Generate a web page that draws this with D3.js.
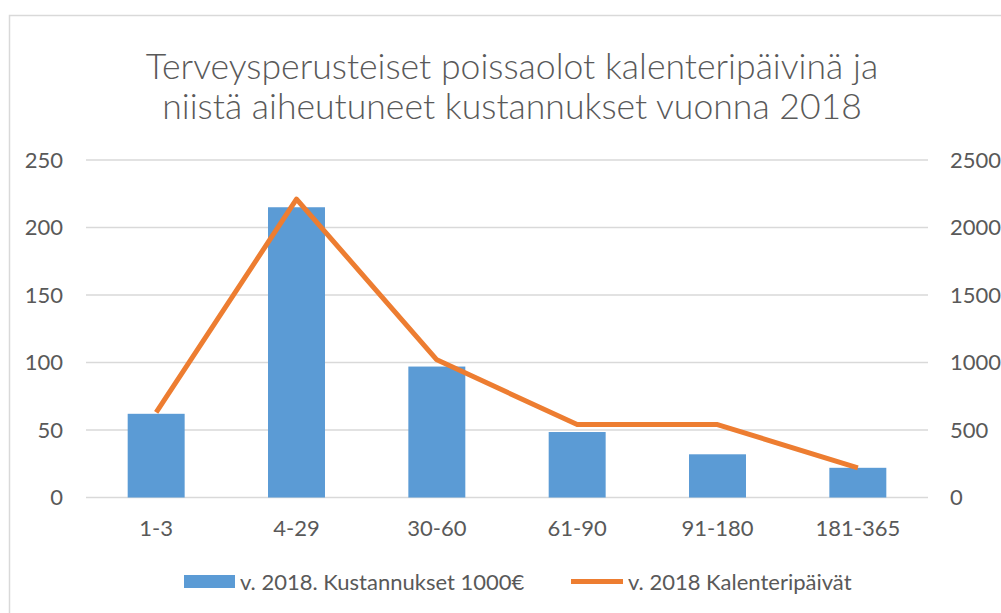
<!DOCTYPE html>
<html>
  <head>
    <meta charset="utf-8">
    <title>Terveysperusteiset poissaolot</title>
    <script src="https://d3js.org/d3.v7.min.js"></script>
    <style>
      body { margin: 0; background: #fff; }
      text { font-family: Lato, "Open Sans", sans-serif; fill: #595959; }
    </style>
  </head>
  <body>
    <script>
      var categories = ["1-3", "4-29", "30-60", "61-90", "91-180", "181-365"];
      var kustannukset = [62, 215, 97, 48.5, 32, 22];
      var kalenteripaivat = [630, 2210, 1020, 540, 540, 220];
      var leftTicks = [0, 50, 100, 150, 200, 250];
      var rightTicks = [0, 500, 1000, 1500, 2000, 2500];
      var titleLines = ["Terveysperusteiset poissaolot kalenteripäivinä ja",
                        "niistä aiheutuneet kustannukset vuonna 2018"];
      var legendLabels = ["v. 2018. Kustannukset 1000€", "v. 2018 Kalenteripäivät"];

      var width = 1001, height = 613;
      var blue = "#5B9BD5", orange = "#ED7D31", grid = "#D9D9D9";

      var svg = d3.select("body").append("svg")
        .attr("width", width)
        .attr("height", height);

      // chart frame (runs off the right and bottom edge)
      svg.append("rect")
        .attr("x", 9.5).attr("y", 15.5)
        .attr("width", 1010).attr("height", 620)
        .attr("fill", "none")
        .attr("stroke", grid)
        .attr("stroke-width", 1.5);

      var x = d3.scaleBand()
        .domain(categories)
        .range([86, 928])
        .paddingInner(0.594)
        .paddingOuter(0.297);

      var yLeft = d3.scaleLinear().domain([0, 250]).range([497.5, 160]);
      var yRight = d3.scaleLinear().domain([0, 2500]).range([497.5, 160]);

      // title (Calibri Light in the original -> light weight)
      svg.append("text")
        .attr("x", 512)
        .attr("y", 79)
        .attr("text-anchor", "middle")
        .style("font-size", "35.6px")
        .style("font-weight", 300)
        .selectAll("tspan")
        .data(titleLines)
        .enter().append("tspan")
          .attr("x", 512)
          .attr("dy", function(d, i) { return i == 0 ? 0 : 40; })
          .text(function(d) { return d; });

      // gridlines
      svg.append("g")
        .selectAll("line")
        .data(leftTicks)
        .enter().append("line")
          .attr("x1", 86).attr("x2", 928)
          .attr("y1", function(d) { return yLeft(d); })
          .attr("y2", function(d) { return yLeft(d); })
          .attr("stroke", grid)
          .attr("stroke-width", 1.3);

      // left axis
      var leftAxis = svg.append("g")
        .attr("transform", "translate(63,0)")
        .call(d3.axisLeft(yLeft).tickValues(leftTicks).tickSize(0).tickPadding(0));
      leftAxis.select(".domain").remove();

      // right axis
      var rightAxis = svg.append("g")
        .attr("transform", "translate(950,0)")
        .call(d3.axisRight(yRight).tickValues(rightTicks).tickFormat(d3.format("d"))
          .tickSize(0).tickPadding(0));
      rightAxis.select(".domain").remove();

      // category axis
      var bottomAxis = svg.append("g")
        .attr("transform", "translate(0,512)")
        .call(d3.axisBottom(x).tickSize(0).tickPadding(8));
      bottomAxis.select(".domain").remove();

      svg.selectAll(".tick text")
        .attr("fill", "#595959")
        .style("font-family", "Lato, 'Open Sans', sans-serif")
        .style("font-size", "22px");

      // bars
      svg.append("g")
        .selectAll("rect")
        .data(kustannukset)
        .enter().append("rect")
          .attr("x", function(d, i) { return x(categories[i]); })
          .attr("y", function(d) { return yLeft(d); })
          .attr("width", x.bandwidth())
          .attr("height", function(d) { return yLeft(0) - yLeft(d); })
          .attr("fill", blue);

      // line
      var line = d3.line()
        .x(function(d, i) { return x(categories[i]) + x.bandwidth() / 2; })
        .y(function(d) { return yRight(d); });

      svg.append("path")
        .datum(kalenteripaivat)
        .attr("d", line)
        .attr("fill", "none")
        .attr("stroke", orange)
        .attr("stroke-width", 5)
        .attr("stroke-linejoin", "round");

      // legend
      var legend = svg.append("g");
      legend.append("rect")
        .attr("x", 184).attr("y", 575)
        .attr("width", 51).attr("height", 13)
        .attr("fill", blue);
      legend.append("text")
        .attr("x", 240).attr("y", 590)
        .style("font-size", "22px")
        .text(legendLabels[0]);
      legend.append("line")
        .attr("x1", 571).attr("x2", 623)
        .attr("y1", 581.5).attr("y2", 581.5)
        .attr("stroke", orange)
        .attr("stroke-width", 5);
      legend.append("text")
        .attr("x", 628).attr("y", 590)
        .style("font-size", "22px")
        .text(legendLabels[1]);
    </script>
  </body>
</html>
